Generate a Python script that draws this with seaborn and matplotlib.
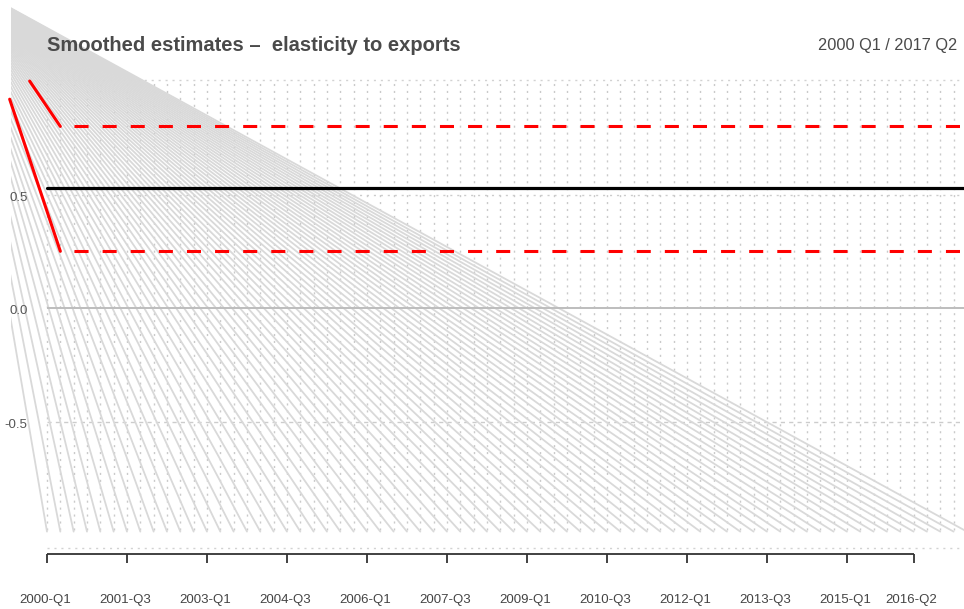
import numpy as np
import pandas as pd
import matplotlib
matplotlib.use("Agg")
import matplotlib.pyplot as plt
from matplotlib.patches import Rectangle
import seaborn as sns

# ---- data -------------------------------------------------------------
years = list(range(2000, 2018))
quarters = [f"{y}-Q{q}" for y in years for q in (1, 2, 3, 4)][:70]   # 2000-Q1 .. 2017-Q2
elasticity = [0.53] * len(quarters)            # smoothed estimate (flat)
upper_band = [0.80] * len(quarters)            # upper confidence band
lower_band = [0.25] * len(quarters)            # lower confidence band
upper_start = (-1.3, 1.00)                     # leading point of upper band
lower_start = (-2.8, 0.92)                     # leading point of lower band
fan_origin = (-7.13, 1.463)                    # common origin of the filtered paths
fan_end = -0.985                               # where each path ends
tick_labels = ["2000-Q1", "2001-Q3", "2003-Q1", "2004-Q3", "2006-Q1", "2007-Q3",
               "2009-Q1", "2010-Q3", "2012-Q1", "2013-Q3", "2015-Q1", "2016-Q2"]
ytick_values = [0.5, 0.0, -0.5]
ytick_labels = ["0.5", "0.0", "-0.5"]

# ---- figure -----------------------------------------------------------
sns.set_theme(style="white")
plt.rcParams["font.family"] = ["Liberation Sans", "DejaVu Sans"]

fig = plt.figure(figsize=(9.64, 6.09), dpi=100)
ax = fig.add_axes([0, 0, 1, 1])
ax.set_xlim(-3.525, 68.78)
ax.set_ylim(-1.326, 1.357)
ax.axis("off")

qpos = np.arange(len(quarters))
dots = (0, (1.5, 3.5))

# dotted vertical grid at every quarter
ax.vlines(qpos, -0.978, 1.004, colors="#cacaca", linestyles=dots, lw=1.0, zorder=1)
for yv in (1.004, -1.057):
    ax.hlines(yv, 0, qpos[-1], colors="#d2d2d2", linestyles=dots, lw=1.0, zorder=1)
ax.hlines(-0.5, 0, 70, colors="#cccccc", linestyles=(0, (3, 3)), lw=1.0, zorder=1)
ax.hlines(0.5, 0, 70, colors="#cccccc", linestyles=dots, lw=1.0, zorder=1)

# fan of gray paths, clipped at the left edge of the panel
fan = pd.DataFrame({
    "q": np.ravel([[fan_origin[0], q] for q in qpos]),
    "v": np.ravel([[fan_origin[1], fan_end] for _ in qpos]),
    "path": np.repeat(qpos, 2),
})
n_before = len(ax.lines)
sns.lineplot(data=fan, x="q", y="v", units="path", estimator=None, sort=False,
             color="#d9d9d9", lw=1.3, ax=ax, zorder=2, legend=False)
clip_box = Rectangle((-2.7, -2.0), 80, 5, transform=ax.transData)
for ln in ax.lines[n_before:]:
    ln.set_clip_path(clip_box)

# zero line
ax.hlines(0.0, 0, 70, colors="#bdbdbd", lw=1.4, zorder=3)

# smoothed estimate
est = pd.DataFrame({"q": qpos, "v": elasticity})
sns.lineplot(data=est, x="q", y="v", color="black", lw=2.3, ax=ax, zorder=5)

# confidence bands: solid lead-in, then dashed
for start, band in ((upper_start, upper_band), (lower_start, lower_band)):
    lead = pd.DataFrame({"q": [start[0], qpos[1]], "v": [start[1], band[1]]})
    sns.lineplot(data=lead, x="q", y="v", color="red", lw=2.2, ax=ax, zorder=6)
    rest = pd.DataFrame({"q": qpos[2:], "v": band[2:]})
    sns.lineplot(data=rest, x="q", y="v", color="red", lw=2.2, ax=ax, zorder=6,
                 linestyle=(0, (4.6, 4.6)))

# x axis
tick_pos = [quarters.index(t) for t in tick_labels]
ax.hlines(-1.084, tick_pos[0], tick_pos[-1], colors="#333333", lw=1.3, zorder=4)
ax.vlines(tick_pos, -1.124, -1.084, colors="#333333", lw=1.3, zorder=4)
for p, t in zip(tick_pos, tick_labels):
    ax.text(p - 0.15, -1.285, t, ha="center", va="center", fontsize=9.5, color="#444444")

# y labels
for v, t in zip(ytick_values, ytick_labels):
    ax.text(-1.45, v - 0.015, t, ha="right", va="center", fontsize=9.5, color="#555555")

# titles
ax.text(0, 1.158, "Smoothed estimates \u2013  elasticity to exports", ha="left", va="center",
        fontsize=14.5, fontweight="bold", color="#4a4a4a")
ax.text(68.27, 1.158, "2000 Q1 / 2017 Q2", ha="right", va="center",
        fontsize=11.8, color="#4a4a4a")

fig.savefig("out.png", dpi=100)
